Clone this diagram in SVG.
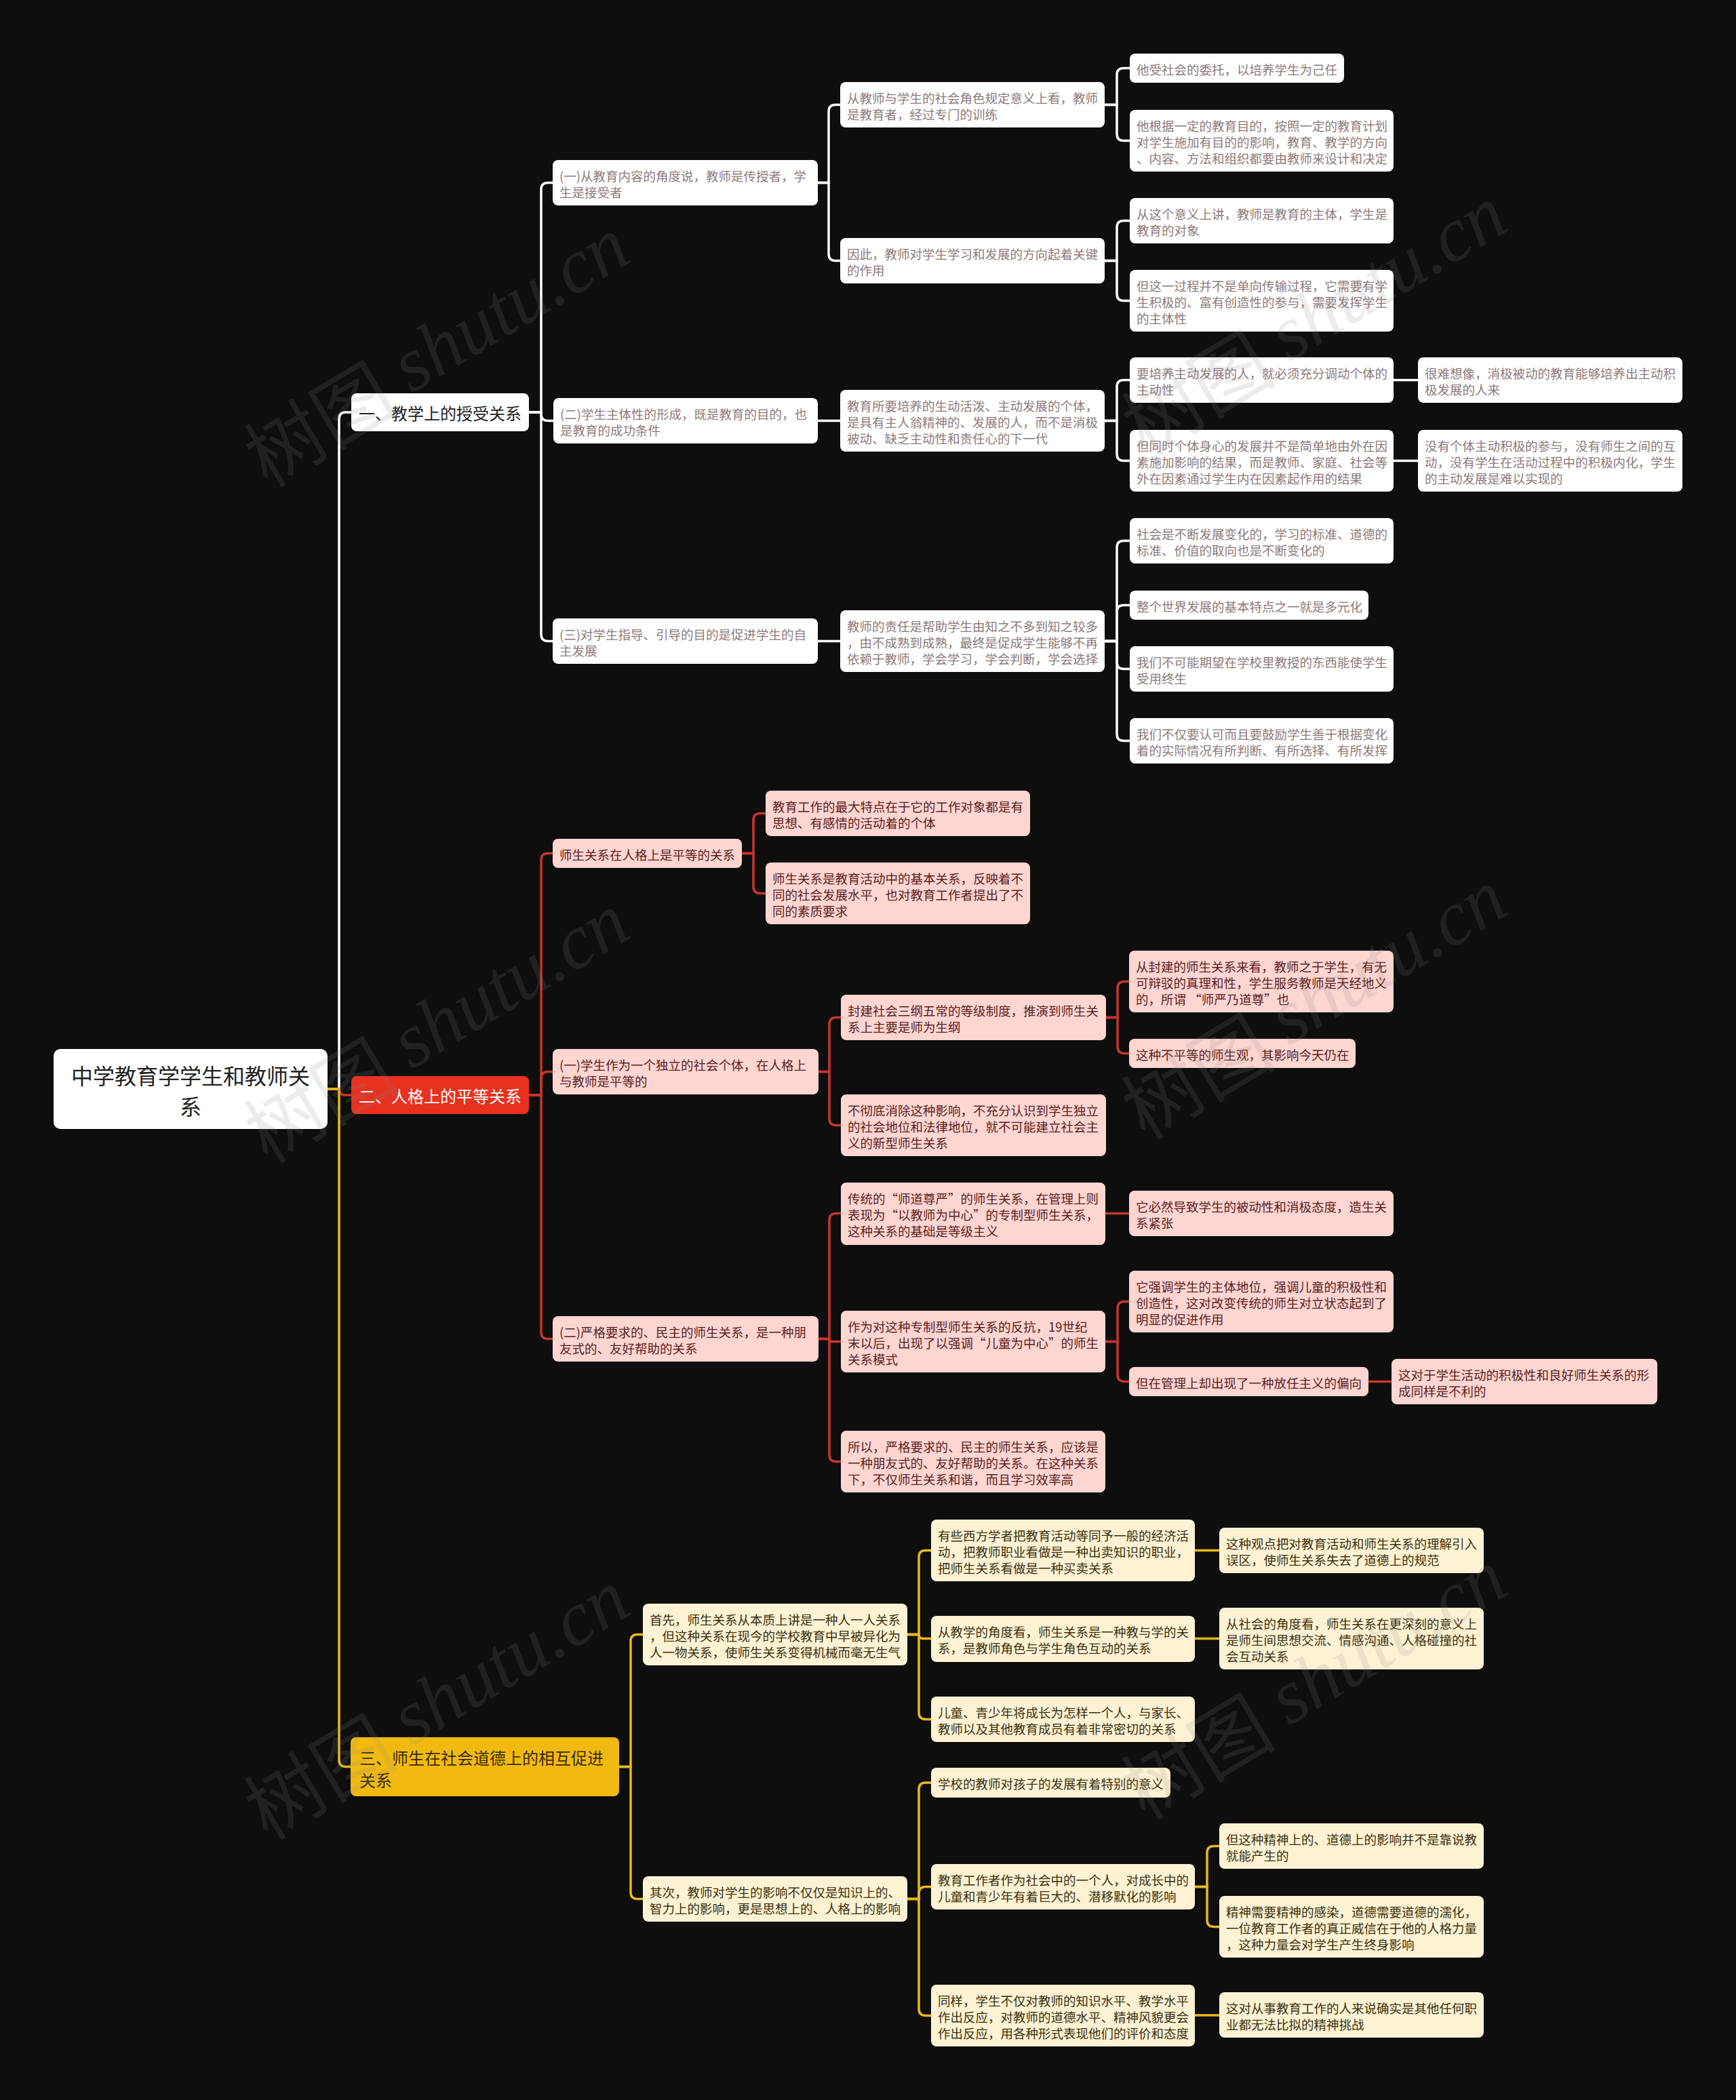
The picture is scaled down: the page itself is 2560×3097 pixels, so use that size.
<svg xmlns="http://www.w3.org/2000/svg" width="2560" height="3097" viewBox="0 0 2560 3097">
<style>
text{font-family:"Noto Sans CJK SC","Noto Sans",sans-serif;dominant-baseline:central}
.b{font-size:18.5px}
.s1 rect{fill:#ffffff}
.s1 text{fill:#8c7a7a}
.s2 rect{fill:#fdd5d1}
.s2 text{fill:#5a1d1d}
.s3 rect{fill:#fdf2d4}
.s3 text{fill:#3a2f10}
.lk{fill:none;stroke-width:3.5}
.w{stroke:#ffffff}
.r{stroke:#c8352a}
.y{stroke:#e9b81c}
.wm{fill:#8a8a8a;fill-opacity:0.16;font-size:114px}
</style>
<rect x="0" y="0" width="2560" height="3097" fill="#0e0e0e"/>

<g id="connectors">
<g class="lk w">
<path d="M483,1606 H500 V618 Q500,608 510,608 H518"/>
<path d="M780,608 H798 V279.5 Q798,269.5 808,269.5 H815"/>
<path d="M780,608 H798 V610.5 Q798,620.5 808,620.5 H816"/>
<path d="M780,608 H798 V935.5 Q798,945.5 808,945.5 H815"/>
<path d="M1206,269.5 H1222 V164.5 Q1222,154.5 1232,154.5 H1239"/>
<path d="M1206,269.5 H1222 V374.5 Q1222,384.5 1232,384.5 H1239"/>
<path d="M1629,154.5 H1647 V110.5 Q1647,100.5 1657,100.5 H1666"/>
<path d="M1629,154.5 H1647 V197.5 Q1647,207.5 1657,207.5 H1666"/>
<path d="M1629,384.5 H1647 V335.5 Q1647,325.5 1657,325.5 H1666"/>
<path d="M1629,384.5 H1647 V433.5 Q1647,443.5 1657,443.5 H1666"/>
<path d="M1206,620.5 H1239"/>
<path d="M1629,620.5 H1647 V570.5 Q1647,560.5 1657,560.5 H1666"/>
<path d="M1629,620.5 H1647 V669.5 Q1647,679.5 1657,679.5 H1666"/>
<path d="M2055,560.5 H2091"/>
<path d="M2055,679.5 H2091"/>
<path d="M1206,945.5 H1239"/>
<path d="M1629,945.5 H1647 V807.5 Q1647,797.5 1657,797.5 H1666"/>
<path d="M1629,945.5 H1647 V902.5 Q1647,892.5 1657,892.5 H1666"/>
<path d="M1629,945.5 H1647 V976.5 Q1647,986.5 1657,986.5 H1666"/>
<path d="M1629,945.5 H1647 V1082.5 Q1647,1092.5 1657,1092.5 H1666"/>
</g>
<g class="lk r">
<path d="M483,1606 H500 V1606 Q500,1615 509,1615 H518"/>
<path d="M780,1615 H798 V1268.5 Q798,1258.5 808,1258.5 H815"/>
<path d="M780,1615 H798 V1590.5 Q798,1580.5 808,1580.5 H815"/>
<path d="M780,1615 H798 V1964.5 Q798,1974.5 808,1974.5 H815"/>
<path d="M1094,1258.5 H1111 V1209.5 Q1111,1199.5 1121,1199.5 H1129"/>
<path d="M1094,1258.5 H1111 V1307.5 Q1111,1317.5 1121,1317.5 H1129"/>
<path d="M1207,1580.5 H1223 V1510.5 Q1223,1500.5 1233,1500.5 H1240"/>
<path d="M1207,1580.5 H1223 V1649.5 Q1223,1659.5 1233,1659.5 H1240"/>
<path d="M1631,1500.5 H1648 V1457.5 Q1648,1447.5 1658,1447.5 H1665"/>
<path d="M1631,1500.5 H1648 V1543.5 Q1648,1553.5 1658,1553.5 H1665"/>
<path d="M1207,1974.5 H1223 V1799.5 Q1223,1789.5 1233,1789.5 H1240"/>
<path d="M1207,1974.5 H1223 V1974.5 Q1223,1978.5 1227,1978.5 H1240"/>
<path d="M1207,1974.5 H1223 V2145.5 Q1223,2155.5 1233,2155.5 H1240"/>
<path d="M1630,1789.5 H1665"/>
<path d="M1630,1978.5 H1648 V1929.5 Q1648,1919.5 1658,1919.5 H1665"/>
<path d="M1630,1978.5 H1648 V2027.5 Q1648,2037.5 1658,2037.5 H1665"/>
<path d="M2018,2037.5 H2052"/>
</g>
<g class="lk y">
<path d="M483,1606 H500 V2595.5 Q500,2605.5 510,2605.5 H517"/>
<path d="M913,2605.5 H930 V2420.5 Q930,2410.5 940,2410.5 H948"/>
<path d="M913,2605.5 H930 V2790.5 Q930,2800.5 940,2800.5 H948"/>
<path d="M1338,2410.5 H1355 V2296.5 Q1355,2286.5 1365,2286.5 H1373"/>
<path d="M1338,2410.5 H1355 V2410.5 Q1355,2416.5 1361,2416.5 H1373"/>
<path d="M1338,2410.5 H1355 V2525.5 Q1355,2535.5 1365,2535.5 H1373"/>
<path d="M1762,2286.5 H1798"/>
<path d="M1762,2416.5 H1798"/>
<path d="M1338,2800.5 H1355 V2639 Q1355,2629 1365,2629 H1373"/>
<path d="M1338,2800.5 H1355 V2792.5 Q1355,2782.5 1365,2782.5 H1373"/>
<path d="M1338,2800.5 H1355 V2962.5 Q1355,2972.5 1365,2972.5 H1373"/>
<path d="M1762,2782.5 H1780 V2732.5 Q1780,2722.5 1790,2722.5 H1798"/>
<path d="M1762,2782.5 H1780 V2831.5 Q1780,2841.5 1790,2841.5 H1798"/>
<path d="M1762,2972 H1798"/>
</g>
</g>

<g id="root">
<rect x="79" y="1547" width="404" height="118" rx="10" fill="#ffffff"/>
<text x="281" y="1585" font-size="32" fill="#222222" text-anchor="middle">中学教育学学生和教师关</text>
<text x="281" y="1630" font-size="32" fill="#222222" text-anchor="middle">系</text>
</g>

<g id="L1a"><rect x="518" y="580" width="262" height="56" rx="8" fill="#ffffff"/><text x="529" y="608" font-size="24" fill="#222222">一、教学上的授受关系</text></g>
<g id="L1b"><rect x="518" y="1587" width="262" height="56" rx="8" fill="#e8311f"/><text x="529" y="1615" font-size="24" fill="#ffffff">二、人格上的平等关系</text></g>
<g id="L1c"><rect x="517" y="2562" width="396" height="87" rx="8" fill="#f2ba10"/><text x="530" y="2591" font-size="24" fill="#3a2c05">三、师生在社会道德上的相互促进</text><text x="530" y="2624" font-size="24" fill="#3a2c05">关系</text></g>

<g class="s1 b">
<g id="A1"><rect x="815" y="236" width="391" height="67" rx="8"/><text x="825" y="258.5">(一)从教育内容的角度说，教师是传授者，学</text><text x="825" y="282.5">生是接受者</text></g>
<g id="A1a"><rect x="1239" y="121" width="390" height="67" rx="8"/><text x="1249" y="143.5">从教师与学生的社会角色规定意义上看，教师</text><text x="1249" y="167.5">是教育者，经过专门的训练</text></g>
<g id="A1a1"><rect x="1666" y="79" width="316" height="43" rx="8"/><text x="1676" y="101.5">他受社会的委托，以培养学生为己任</text></g>
<g id="A1a2"><rect x="1666" y="162" width="389" height="91" rx="8"/><text x="1676" y="184.5">他根据一定的教育目的，按照一定的教育计划</text><text x="1676" y="208.5">对学生施加有目的的影响，教育、教学的方向</text><text x="1676" y="232.5">、内容、方法和组织都要由教师来设计和决定</text></g>
<g id="A1b"><rect x="1239" y="351" width="390" height="67" rx="8"/><text x="1249" y="373.5">因此，教师对学生学习和发展的方向起着关键</text><text x="1249" y="397.5">的作用</text></g>
<g id="A1b1"><rect x="1666" y="292" width="389" height="67" rx="8"/><text x="1676" y="314.5">从这个意义上讲，教师是教育的主体，学生是</text><text x="1676" y="338.5">教育的对象</text></g>
<g id="A1b2"><rect x="1666" y="398" width="389" height="91" rx="8"/><text x="1676" y="420.5">但这一过程并不是单向传输过程，它需要有学</text><text x="1676" y="444.5">生积极的、富有创造性的参与，需要发挥学生</text><text x="1676" y="468.5">的主体性</text></g>
<g id="B1"><rect x="816" y="587" width="390" height="67" rx="8"/><text x="826" y="609.5">(二)学生主体性的形成，既是教育的目的，也</text><text x="826" y="633.5">是教育的成功条件</text></g>
<g id="B1a"><rect x="1239" y="575" width="390" height="91" rx="8"/><text x="1249" y="597.5">教育所要培养的生动活泼、主动发展的个体，</text><text x="1249" y="621.5">是具有主人翁精神的、发展的人，而不是消极</text><text x="1249" y="645.5">被动、缺乏主动性和责任心的下一代</text></g>
<g id="B1a1"><rect x="1666" y="527" width="389" height="67" rx="8"/><text x="1676" y="549.5">要培养主动发展的人，就必须充分调动个体的</text><text x="1676" y="573.5">主动性</text></g>
<g id="B1a1x"><rect x="2091" y="527" width="390" height="67" rx="8"/><text x="2101" y="549.5">很难想像，消极被动的教育能够培养出主动积</text><text x="2101" y="573.5">极发展的人来</text></g>
<g id="B1a2"><rect x="1666" y="634" width="389" height="91" rx="8"/><text x="1676" y="656.5">但同时个体身心的发展并不是简单地由外在因</text><text x="1676" y="680.5">素施加影响的结果，而是教师、家庭、社会等</text><text x="1676" y="704.5">外在因素通过学生内在因素起作用的结果</text></g>
<g id="B1a2x"><rect x="2091" y="634" width="390" height="91" rx="8"/><text x="2101" y="656.5">没有个体主动积极的参与，没有师生之间的互</text><text x="2101" y="680.5">动，没有学生在活动过程中的积极内化，学生</text><text x="2101" y="704.5">的主动发展是难以实现的</text></g>
<g id="C1"><rect x="815" y="912" width="391" height="67" rx="8"/><text x="825" y="934.5">(三)对学生指导、引导的目的是促进学生的自</text><text x="825" y="958.5">主发展</text></g>
<g id="C1a"><rect x="1239" y="900" width="390" height="91" rx="8"/><text x="1249" y="922.5">教师的责任是帮助学生由知之不多到知之较多</text><text x="1249" y="946.5">，由不成熟到成熟，最终是促成学生能够不再</text><text x="1249" y="970.5">依赖于教师，学会学习，学会判断，学会选择</text></g>
<g id="C1a1"><rect x="1666" y="764" width="389" height="67" rx="8"/><text x="1676" y="786.5">社会是不断发展变化的，学习的标准、道德的</text><text x="1676" y="810.5">标准、价值的取向也是不断变化的</text></g>
<g id="C1a2"><rect x="1666" y="871" width="352" height="43" rx="8"/><text x="1676" y="893.5">整个世界发展的基本特点之一就是多元化</text></g>
<g id="C1a3"><rect x="1666" y="953" width="389" height="67" rx="8"/><text x="1676" y="975.5">我们不可能期望在学校里教授的东西能使学生</text><text x="1676" y="999.5">受用终生</text></g>
<g id="C1a4"><rect x="1666" y="1059" width="389" height="67" rx="8"/><text x="1676" y="1081.5">我们不仅要认可而且要鼓励学生善于根据变化</text><text x="1676" y="1105.5">着的实际情况有所判断、有所选择、有所发挥</text></g>
</g>

<g class="s2 b">
<g id="D1"><rect x="815" y="1237" width="279" height="43" rx="8"/><text x="825" y="1259.5">师生关系在人格上是平等的关系</text></g>
<g id="D1a"><rect x="1129" y="1166" width="390" height="67" rx="8"/><text x="1139" y="1188.5">教育工作的最大特点在于它的工作对象都是有</text><text x="1139" y="1212.5">思想、有感情的活动着的个体</text></g>
<g id="D1b"><rect x="1129" y="1272" width="390" height="91" rx="8"/><text x="1139" y="1294.5">师生关系是教育活动中的基本关系，反映着不</text><text x="1139" y="1318.5">同的社会发展水平，也对教育工作者提出了不</text><text x="1139" y="1342.5">同的素质要求</text></g>
<g id="E1"><rect x="815" y="1547" width="392" height="67" rx="8"/><text x="825" y="1569.5">(一)学生作为一个独立的社会个体，在人格上</text><text x="825" y="1593.5">与教师是平等的</text></g>
<g id="E1a"><rect x="1240" y="1467" width="391" height="67" rx="8"/><text x="1250" y="1489.5">封建社会三纲五常的等级制度，推演到师生关</text><text x="1250" y="1513.5">系上主要是师为生纲</text></g>
<g id="E1a1"><rect x="1665" y="1402" width="390" height="91" rx="8"/><text x="1675" y="1424.5">从封建的师生关系来看，教师之于学生，有无</text><text x="1675" y="1448.5">可辩驳的真理和性，学生服务教师是天经地义</text><text x="1675" y="1472.5">的，所谓 “师严乃道尊”也</text></g>
<g id="E1a2"><rect x="1665" y="1532" width="334" height="43" rx="8"/><text x="1675" y="1554.5">这种不平等的师生观，其影响今天仍在</text></g>
<g id="E1b"><rect x="1240" y="1614" width="391" height="91" rx="8"/><text x="1250" y="1636.5">不彻底消除这种影响，不充分认识到学生独立</text><text x="1250" y="1660.5">的社会地位和法律地位，就不可能建立社会主</text><text x="1250" y="1684.5">义的新型师生关系</text></g>
<g id="F1"><rect x="815" y="1941" width="392" height="67" rx="8"/><text x="825" y="1963.5">(二)严格要求的、民主的师生关系，是一种朋</text><text x="825" y="1987.5">友式的、友好帮助的关系</text></g>
<g id="F1a"><rect x="1240" y="1744" width="390" height="92" rx="8"/><text x="1250" y="1767">传统的“师道尊严”的师生关系，在管理上则</text><text x="1250" y="1791">表现为“以教师为中心”的专制型师生关系，</text><text x="1250" y="1815">这种关系的基础是等级主义</text></g>
<g id="F1a1"><rect x="1665" y="1756" width="390" height="67" rx="8"/><text x="1675" y="1778.5">它必然导致学生的被动性和消极态度，造生关</text><text x="1675" y="1802.5">系紧张</text></g>
<g id="F1b"><rect x="1240" y="1933" width="390" height="91" rx="8"/><text x="1250" y="1955.5">作为对这种专制型师生关系的反抗，19世纪</text><text x="1250" y="1979.5">末以后，出现了以强调“儿童为中心”的师生</text><text x="1250" y="2003.5">关系模式</text></g>
<g id="F1b1"><rect x="1665" y="1874" width="390" height="91" rx="8"/><text x="1675" y="1896.5">它强调学生的主体地位，强调儿童的积极性和</text><text x="1675" y="1920.5">创造性，这对改变传统的师生对立状态起到了</text><text x="1675" y="1944.5">明显的促进作用</text></g>
<g id="F1b2"><rect x="1665" y="2016" width="353" height="43" rx="8"/><text x="1675" y="2038.5">但在管理上却出现了一种放任主义的偏向</text></g>
<g id="F1b2a"><rect x="2052" y="2004" width="392" height="67" rx="8"/><text x="2062" y="2026.5">这对于学生活动的积极性和良好师生关系的形</text><text x="2062" y="2050.5">成同样是不利的</text></g>
<g id="F1c"><rect x="1240" y="2110" width="390" height="91" rx="8"/><text x="1250" y="2132.5">所以，严格要求的、民主的师生关系，应该是</text><text x="1250" y="2156.5">一种朋友式的、友好帮助的关系。在这种关系</text><text x="1250" y="2180.5">下，不仅师生关系和谐，而且学习效率高</text></g>
</g>

<g class="s3 b">
<g id="G1"><rect x="948" y="2365" width="390" height="91" rx="8"/><text x="958" y="2387.5">首先，师生关系从本质上讲是一种人一人关系</text><text x="958" y="2411.5">，但这种关系在现今的学校教育中早被异化为</text><text x="958" y="2435.5">人一物关系，使师生关系变得机械而毫无生气</text></g>
<g id="G1a"><rect x="1373" y="2241" width="389" height="91" rx="8"/><text x="1383" y="2263.5">有些西方学者把教育活动等同予一般的经济活</text><text x="1383" y="2287.5">动，把教师职业看做是一种出卖知识的职业，</text><text x="1383" y="2311.5">把师生关系看做是一种买卖关系</text></g>
<g id="G1a1"><rect x="1798" y="2253" width="390" height="67" rx="8"/><text x="1808" y="2275.5">这种观点把对教育活动和师生关系的理解引入</text><text x="1808" y="2299.5">误区，使师生关系失去了道德上的规范</text></g>
<g id="G1b"><rect x="1373" y="2383" width="389" height="68" rx="8"/><text x="1383" y="2406">从教学的角度看，师生关系是一种教与学的关</text><text x="1383" y="2430">系，是教师角色与学生角色互动的关系</text></g>
<g id="G1b1"><rect x="1798" y="2371" width="390" height="91" rx="8"/><text x="1808" y="2393.5">从社会的角度看，师生关系在更深刻的意义上</text><text x="1808" y="2417.5">是师生间思想交流、情感沟通、人格碰撞的社</text><text x="1808" y="2441.5">会互动关系</text></g>
<g id="G1c"><rect x="1373" y="2502" width="389" height="67" rx="8"/><text x="1383" y="2524.5">儿童、青少年将成长为怎样一个人，与家长、</text><text x="1383" y="2548.5">教师以及其他教育成员有着非常密切的关系</text></g>
<g id="H1"><rect x="948" y="2767" width="390" height="67" rx="8"/><text x="958" y="2789.5">其次，教师对学生的影响不仅仅是知识上的、</text><text x="958" y="2813.5">智力上的影响，更是思想上的、人格上的影响</text></g>
<g id="H1a"><rect x="1373" y="2607" width="353" height="44" rx="8"/><text x="1383" y="2630">学校的教师对孩子的发展有着特别的意义</text></g>
<g id="H1b"><rect x="1373" y="2749" width="389" height="67" rx="8"/><text x="1383" y="2771.5">教育工作者作为社会中的一个人，对成长中的</text><text x="1383" y="2795.5">儿童和青少年有着巨大的、潜移默化的影响</text></g>
<g id="H1b1"><rect x="1798" y="2689" width="390" height="67" rx="8"/><text x="1808" y="2711.5">但这种精神上的、道德上的影响并不是靠说教</text><text x="1808" y="2735.5">就能产生的</text></g>
<g id="H1b2"><rect x="1798" y="2796" width="390" height="91" rx="8"/><text x="1808" y="2818.5">精神需要精神的感染，道德需要道德的濡化，</text><text x="1808" y="2842.5">一位教育工作者的真正威信在于他的人格力量</text><text x="1808" y="2866.5">，这种力量会对学生产生终身影响</text></g>
<g id="H1c"><rect x="1373" y="2927" width="389" height="91" rx="8"/><text x="1383" y="2949.5">同样，学生不仅对教师的知识水平、教学水平</text><text x="1383" y="2973.5">作出反应，对教师的道德水平、精神风貌更会</text><text x="1383" y="2997.5">作出反应，用各种形式表现他们的评价和态度</text></g>
<g id="H1c1"><rect x="1798" y="2938" width="390" height="67" rx="8"/><text x="1808" y="2960.5">这对从事教育工作的人来说确实是其他任何职</text><text x="1808" y="2984.5">业都无法比拟的精神挑战</text></g>
</g>

<g id="watermark" class="wm">
<text transform="translate(642,514) rotate(-31)" text-anchor="middle">树图 <tspan font-family="Liberation Serif,serif" font-style="italic">shutu.cn</tspan></text>
<text transform="translate(1936,468) rotate(-31)" text-anchor="middle">树图 <tspan font-family="Liberation Serif,serif" font-style="italic">shutu.cn</tspan></text>
<text transform="translate(642,1511) rotate(-31)" text-anchor="middle">树图 <tspan font-family="Liberation Serif,serif" font-style="italic">shutu.cn</tspan></text>
<text transform="translate(1936,1476) rotate(-31)" text-anchor="middle">树图 <tspan font-family="Liberation Serif,serif" font-style="italic">shutu.cn</tspan></text>
<text transform="translate(642,2509) rotate(-31)" text-anchor="middle">树图 <tspan font-family="Liberation Serif,serif" font-style="italic">shutu.cn</tspan></text>
<text transform="translate(1936,2479) rotate(-31)" text-anchor="middle">树图 <tspan font-family="Liberation Serif,serif" font-style="italic">shutu.cn</tspan></text>
</g>
</svg>
